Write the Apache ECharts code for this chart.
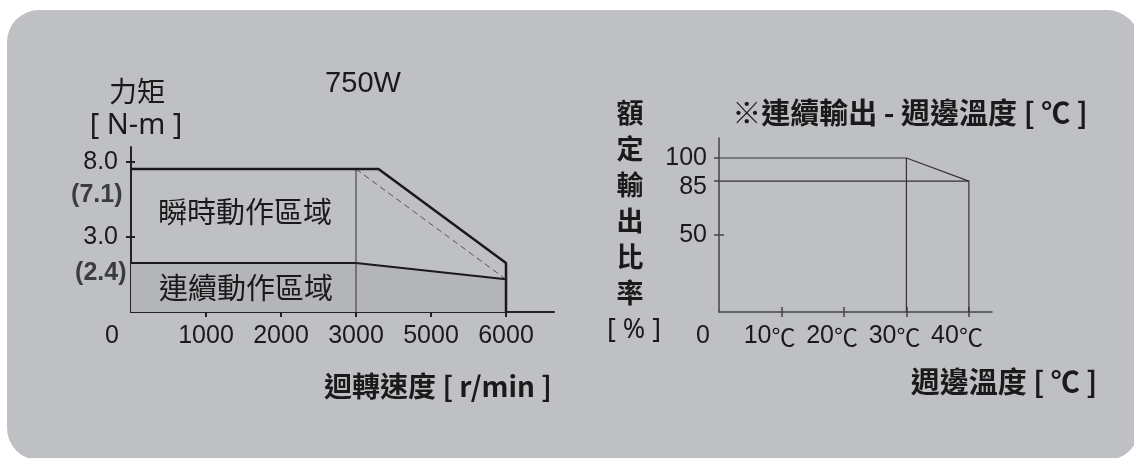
<!DOCTYPE html>
<html>
<head>
<meta charset="utf-8">
<script src="https://cdn.jsdelivr.net/npm/echarts@6/dist/echarts.min.js"></script>
<style>
  html, body { margin: 0; padding: 0; background: #fff; }
  #chart { width: 1134px; height: 458px; }
</style>
</head>
<body>
<div id="chart"></div>
<script>
// 左圖：轉速 - 力矩
const speedTicks = [0, 1000, 2000, 3000, 5000, 6000];
const torqueTicks = [8.0, 3.0];
const torqueMarks = [7.1, 2.4];
const peakSpeed = [0, 3600, 6000, 6000];
const peakTorque = [7.1, 7.1, 2.4, 0];
const contSpeed = [0, 3000, 6000];
const contTorque = [2.4, 2.4, 1.6];
const dashSpeed = [3000, 6000];
const dashTorque = [7.1, 1.6];

// 右圖：週邊溫度 - 額定輸出比率
const tempTicks = [0, 10, 20, 30, 40];
const ratioTicks = [100, 85, 50];
const ratioTemp = [0, 30, 40, 40];
const ratioValue = [100, 100, 85, 0];
const ratio85Temp = [0, 40];
const ratio85Value = [85, 85];

const CJK = '"Noto Sans CJK TC", "Noto Sans CJK SC", sans-serif';
const LAT = '"Liberation Sans", Arial, "Noto Sans CJK TC", sans-serif';
const INK = '#1a1a1a';

// 原圖刻度為示意用（非線性），轉速刻度等距排列，力矩刻度依圖面層級
const torqueLevels = [0, 2.4, 3.0, 7.1, 8.0];
const torqueSteps = [0, 3.27, 5, 9.53, 10];

function interp(v, from, to) {
    for (let i = 1; i < from.length; i++) {
        if (v <= from[i]) {
            const t = (v - from[i - 1]) / (from[i] - from[i - 1]);
            return to[i - 1] + t * (to[i] - to[i - 1]);
        }
    }
    return to[to.length - 1];
}
const sx = v => interp(v, speedTicks, speedTicks.map((_, i) => i));
const ty = v => interp(v, torqueLevels, torqueSteps);
const pairs = (xs, ys, fx, fy) => xs.map((x, i) => [fx ? fx(x) : x, fy ? fy(ys[i]) : ys[i]]);

const chart = echarts.init(document.getElementById('chart'));

function text(str, x, y, size, extra) {
    return {
        type: 'text', x: x, y: y, z: 100, silent: true,
        style: Object.assign({
            text: str, fill: INK, align: 'center', verticalAlign: 'middle',
            fontSize: size, fontFamily: CJK, fontWeight: 'normal'
        }, extra || {})
    };
}

const labelBase = { color: INK, fontSize: 25, fontFamily: LAT, lineHeight: 25 };
// 溫度軸範圍；℃ 標籤在原圖中略偏左，用同刻度但平移的標籤軸表示
const tempMax = 43.7;
const tempLabelShift = 1.9;
const ratioMax = 113;
const ratioLabelShift = 4;

const option = {
    animation: false,
    backgroundColor: '#ffffff',
    graphic: [
        { type: 'rect', z: -100, silent: true, shape: { x: 7, y: 10, width: 1132, height: 450, r: 32 }, style: { fill: '#bfc0c4' } },
        text('750W', 363, 84, 29, { fontFamily: LAT }),
        text('力矩', 137, 91, 28),
        text('[ N-m ]', 136, 126, 29, { fontFamily: '"Noto Sans", sans-serif' }),
        text('瞬時動作區域', 245, 212, 29),
        text('連續動作區域', 246, 288, 29),
        text('迴轉速度 [ r/min ]', 438, 386, 28, { fontWeight: 'bold' }),
        text('額\n定\n輸\n出\n比\n率', 630, 203, 27, { fontWeight: 'bold', lineHeight: 36 }),
        text('[ % ]', 634, 330, 27, { fontFamily: '"Noto Sans", sans-serif' }),
        text('※連續輸出 - 週邊溫度 [ ℃ ]', 910, 113, 29, { fontWeight: 'bold' }),
        text('週邊溫度 [ ℃ ]', 1004, 382, 29, { fontWeight: 'bold' })
    ],
    grid: [
        { left: 131, top: 147, width: 423, height: 165 },
        { left: 719, top: 138, width: 273, height: 174 }
    ],
    xAxis: [
        {
            type: 'value', gridIndex: 0, min: 0, max: 5.64,
            axisLine: { lineStyle: { color: '#222', width: 2 } },
            axisTick: { show: true, length: 5, lineStyle: { color: '#222', width: 2 },
                customValues: speedTicks.slice(1).map(sx) },
            axisLabel: {
                ...labelBase, margin: 12, showMinLabel: true, showMaxLabel: true,
                customValues: speedTicks.map(sx),
                formatter: v => {
                    const s = speedTicks[Math.round(v)];
                    return s === 0 ? '{z|0}' : String(s);
                },
                rich: { z: { ...labelBase, padding: [0, 38, 0, 0] } }
            },
            splitLine: { show: false }
        },
        {
            type: 'value', gridIndex: 0, min: 0, max: 5.64, position: 'bottom',
            axisLine: { show: false },
            axisTick: { show: true, inside: true, length: 4, lineStyle: { color: '#222', width: 2 },
                customValues: speedTicks.slice(1).map(sx) },
            axisLabel: { show: false }, splitLine: { show: false }
        },
        {
            type: 'value', gridIndex: 1, min: 0, max: tempMax,
            axisLine: { lineStyle: { color: '#444', width: 1.5 } },
            axisTick: { show: true, length: 5, lineStyle: { color: '#444', width: 1.5 },
                customValues: tempTicks.slice(1) },
            axisLabel: {
                ...labelBase, margin: 12, showMinLabel: true,
                customValues: [tempTicks[0]],
                formatter: () => '{z|0}',
                rich: { z: { ...labelBase, padding: [0, 32, 0, 0] } }
            },
            splitLine: { show: false }
        },
        {
            type: 'value', gridIndex: 1, min: 0, max: tempMax, position: 'bottom',
            axisLine: { show: false },
            axisTick: { show: true, inside: true, length: 5, lineStyle: { color: '#444', width: 1.5 },
                customValues: tempTicks.slice(1) },
            axisLabel: { show: false }, splitLine: { show: false }
        },
        {
            type: 'value', gridIndex: 1, min: tempLabelShift, max: tempMax + tempLabelShift, position: 'bottom',
            axisLine: { show: false }, axisTick: { show: false }, splitLine: { show: false },
            axisLabel: {
                ...labelBase, margin: 12, showMinLabel: true, showMaxLabel: true,
                customValues: tempTicks.slice(1),
                formatter: v => '{t|' + v + '}{c|℃}',
                rich: {
                    t: { ...labelBase },
                    c: { ...labelBase, fontFamily: CJK, fontSize: 24 }
                }
            }
        }
    ],
    yAxis: [
        {
            type: 'value', gridIndex: 0, min: 0, max: 11,
            axisLine: { show: true, lineStyle: { color: '#222', width: 2 } },
            axisTick: { show: true, length: 5, lineStyle: { color: '#222', width: 2 },
                customValues: torqueTicks.map(ty) },
            axisLabel: {
                ...labelBase, margin: 13, showMinLabel: true, showMaxLabel: true,
                customValues: torqueTicks.map(ty),
                formatter: v => torqueTicks.find(t => Math.abs(ty(t) - v) < 0.01).toFixed(1)
            },
            splitLine: { show: false }
        },
        {
            type: 'value', gridIndex: 0, min: 0, max: 11, position: 'left',
            axisLine: { show: false },
            axisTick: { show: true, inside: true, length: 4, lineStyle: { color: '#222', width: 2 },
                customValues: torqueTicks.map(ty) },
            axisLabel: { show: false }, splitLine: { show: false }
        },
        {
            type: 'value', gridIndex: 1, min: 0, max: ratioMax,
            axisLine: { show: true, lineStyle: { color: '#444', width: 1.5 } },
            axisTick: { show: true, length: 5, lineStyle: { color: '#444', width: 1.5 },
                customValues: ratioTicks },
            axisLabel: { ...labelBase, margin: 12, showMinLabel: true, showMaxLabel: true,
                customValues: [ratioTicks[0], ratioTicks[2]] },
            splitLine: { show: false }
        },
        {
            type: 'value', gridIndex: 1, min: 0, max: ratioMax, position: 'left',
            axisLine: { show: false },
            axisTick: { show: true, inside: true, length: 5, lineStyle: { color: '#444', width: 1.5 },
                customValues: [ratioTicks[2]] },
            axisLabel: { show: false }, splitLine: { show: false }
        },
        {
            type: 'value', gridIndex: 1, min: ratioLabelShift, max: ratioMax + ratioLabelShift, position: 'left',
            axisLine: { show: false }, axisTick: { show: false }, splitLine: { show: false },
            axisLabel: { ...labelBase, margin: 12, showMinLabel: true, showMaxLabel: true,
                customValues: [ratioTicks[1]] }
        }
    ],
    series: [
        {
            name: '連續', type: 'line', xAxisIndex: 0, yAxisIndex: 0, symbol: 'none', z: 3,
            data: pairs(contSpeed, contTorque, sx, ty),
            lineStyle: { color: INK, width: 2 },
            areaStyle: { color: '#b4b5b9', opacity: 1 }
        },
        {
            name: '瞬時', type: 'line', xAxisIndex: 0, yAxisIndex: 0, symbol: 'none', z: 4,
            data: pairs(peakSpeed, peakTorque, sx, ty),
            lineStyle: { color: INK, width: 2.5 }
        },
        {
            name: '虛線', type: 'line', xAxisIndex: 0, yAxisIndex: 0, symbol: 'none', z: 3,
            data: pairs(dashSpeed, dashTorque, sx, ty),
            lineStyle: { color: '#555', width: 1, type: [6, 4] }
        },
        {
            name: '3000', type: 'line', xAxisIndex: 0, yAxisIndex: 0, symbol: 'none', z: 3,
            data: pairs([3000, 3000], [torqueMarks[0], 0], sx, ty),
            lineStyle: { color: '#333', width: 1 }
        },
        {
            name: '標記', type: 'scatter', xAxisIndex: 0, yAxisIndex: 0, symbolSize: 1, z: 5,
            itemStyle: { color: 'rgba(0,0,0,0)' },
            data: [
                { value: [0, ty(torqueMarks[0])], label: { distance: 8, offset: [0, 26] } },
                { value: [0, ty(torqueMarks[1])], label: { distance: 4, offset: [0, 10] } }
            ],
            label: {
                show: true, position: 'left', color: INK, fontSize: 25, fontWeight: 'bold', fontFamily: LAT,
                formatter: p => '(' + torqueMarks[p.dataIndex].toFixed(1) + ')'
            }
        },
        {
            name: '比率', type: 'line', xAxisIndex: 2, yAxisIndex: 2, symbol: 'none',
            data: pairs(ratioTemp, ratioValue),
            lineStyle: { color: '#333', width: 1.2 }
        },
        {
            name: '85%', type: 'line', xAxisIndex: 2, yAxisIndex: 2, symbol: 'none',
            data: pairs(ratio85Temp, ratio85Value),
            lineStyle: { color: '#333', width: 1.2 }
        },
        {
            name: '30℃', type: 'line', xAxisIndex: 2, yAxisIndex: 2, symbol: 'none',
            data: pairs([30, 30], [100, 0]),
            lineStyle: { color: '#333', width: 1.2 }
        }
    ]
};

chart.setOption(option);
</script>
</body>
</html>
